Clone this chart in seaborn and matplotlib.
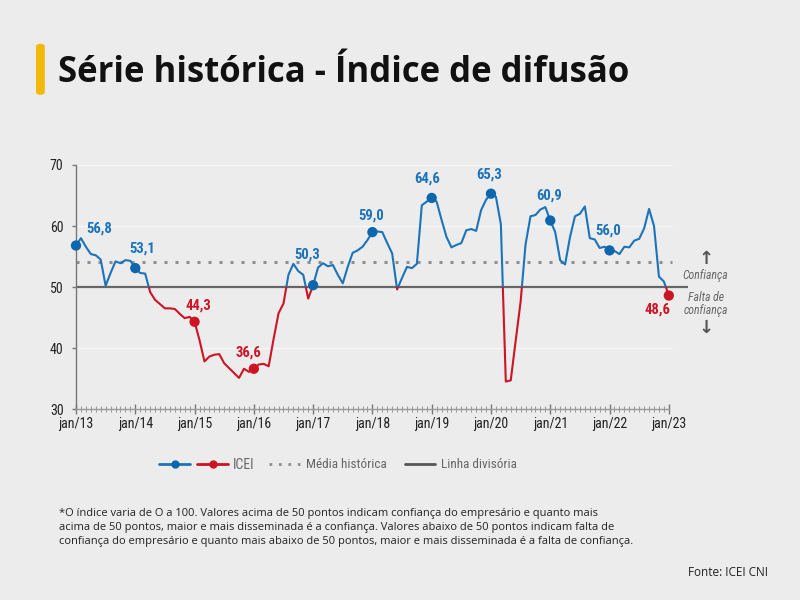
import numpy as np
import pandas as pd
import seaborn as sns
import matplotlib.pyplot as plt
from matplotlib import font_manager
from matplotlib.patches import Rectangle, FancyBboxPatch
from matplotlib.lines import Line2D
from matplotlib.legend_handler import HandlerTuple

# ICEI mensal, jan/13 .. jan/23
icei = [
    56.8, 58.0, 56.6, 55.4, 55.2, 54.5, 50.2, 52.3, 54.2, 53.9, 54.4, 54.3,
    53.1, 52.3, 52.2, 49.2, 47.9, 47.2, 46.5, 46.5, 46.4, 45.6, 44.9, 45.1,
    44.3, 41.3, 37.8, 38.6, 38.9, 39.0, 37.5, 36.7, 35.9, 35.1, 36.6, 36.1,
    36.6, 37.3, 37.4, 37.0, 41.5, 45.7, 47.3, 52.0, 53.8, 52.6, 52.0, 48.1,
    50.3, 53.2, 53.9, 53.4, 53.6, 52.0, 50.6, 53.3, 55.6, 56.0, 56.6, 57.7,
    59.0, 59.1, 59.0, 57.2, 55.5, 49.6, 51.5, 53.3, 53.1, 53.8, 63.4, 64.0,
    64.6, 64.0, 61.0, 58.2, 56.5, 56.9, 57.2, 59.3, 59.5, 59.2, 62.6, 64.3,
    65.3, 64.8, 60.3, 34.5, 34.7, 41.2, 47.6, 57.0, 61.6, 61.8, 62.7, 63.1,
    60.9, 59.0, 54.4, 53.7, 58.2, 61.6, 62.0, 63.2, 58.0, 57.8, 56.4, 56.6,
    56.0, 55.9, 55.4, 56.6, 56.5, 57.6, 57.9, 59.6, 62.8, 60.0, 51.7, 50.9,
    48.6,
]
year_labels = ["jan/13", "jan/14", "jan/15", "jan/16", "jan/17", "jan/18",
               "jan/19", "jan/20", "jan/21", "jan/22", "jan/23"]
media_historica = 54.1
linha_divisoria = 50

df = pd.DataFrame({"mes": np.arange(len(icei)), "icei": icei})
jan = df[df["mes"] % 12 == 0].copy()

BLUE = "#1b73b9"
DOT_BLUE = "#0e66ad"
RED = "#cc1424"
BG = "#ececec"


def pick_font(names, fallback="DejaVu Sans"):
    installed = {f.name for f in font_manager.fontManager.ttflist}
    for n in names:
        if n in installed:
            return n
    return fallback


COND = pick_font(["Liberation Sans Narrow", "Roboto Condensed", "Roboto"])
SANS = pick_font(["Open Sans", "Noto Sans"])

sns.set_theme(style="white")
plt.rcParams["font.family"] = [SANS, "DejaVu Sans"]

fig = plt.figure(figsize=(8, 6), dpi=100, facecolor=BG)
ax = fig.add_axes([0.095, 0.3183, 0.7645, 0.4067], facecolor=BG)

# faint grid
for yv in [40, 60, 70]:
    ax.hlines(yv, 0, 120.7, color="#f7f7f7", lw=1.0, zorder=0)

ax.hlines(media_historica, 0, 120.7, color="#8f8f8f", lw=2.2,
          linestyles=(0, (1, 2.6)), zorder=1)
ax.axhline(linha_divisoria, color="#666666", lw=1.6, zorder=1)

# series, blue above 50 and red below
sns.lineplot(data=df, x="mes", y="icei", color=BLUE, lw=1.5, ax=ax, zorder=3)
ax.lines[-1].set_clip_path(Rectangle((-5, 50), 200, 40, transform=ax.transData))
sns.lineplot(data=df, x="mes", y="icei", color=RED, lw=1.5, ax=ax, zorder=3)
ax.lines[-1].set_clip_path(Rectangle((-5, 10), 200, 40, transform=ax.transData))

dot_colors = [DOT_BLUE if v >= 50 else RED for v in jan["icei"]]
ax.scatter(jan["mes"], jan["icei"], s=55, c=dot_colors, zorder=5,
           clip_on=False, linewidths=0)

offsets = [(17, 12), (5, 14), (3, 12), (-4, 12), (-4, 22), (-1, 12),
           (-3, 14), (-1, 14), (-1, 18), (-1, 14), (-8, -10)]
for (m, v), off, c in zip(jan[["mes", "icei"]].values, offsets, dot_colors):
    ax.annotate(f"{v:.1f}".replace(".", ","), (m, v), xytext=off,
                textcoords="offset points", ha="center", va="center",
                fontsize=10.5, fontweight="bold", color=c if c == RED else BLUE,
                family=COND, zorder=6)

ax.set_xlim(0, 123.8)
ax.set_ylim(30, 70)
ax.set_xticks(jan["mes"], year_labels)
ax.set_xticks(df["mes"], minor=True)
ax.set_yticks([30, 40, 50, 60, 70])
ax.tick_params(axis="x", which="major", direction="inout", length=7, width=1,
               color="#777777", labelsize=10, pad=2, labelcolor="#222222",
               bottom=True)
ax.tick_params(axis="x", which="minor", direction="inout", length=4, width=0.7,
               color="#999999", bottom=True)
ax.tick_params(axis="y", direction="out", length=3, width=1, color="#777777",
               labelsize=10, pad=6, labelcolor="#222222", left=True)
for lab in ax.get_xticklabels() + ax.get_yticklabels():
    lab.set_family(COND)

for s in ["top", "right"]:
    ax.spines[s].set_visible(False)
ax.spines["left"].set_color("#777777")
ax.spines["bottom"].set_color("#999999")
ax.spines["left"].set_linewidth(1)
ax.spines["bottom"].set_linewidth(1)
ax.spines["bottom"].set_bounds(0, 120)
ax.set_xlabel("")
ax.set_ylabel("")

# right side notes
fig.text(0.882, 0.569, "↑", ha="center", va="center", fontsize=13,
         fontweight="bold", color="#555555", family="DejaVu Sans")
fig.text(0.882, 0.541, "Confiança", ha="center", va="center", fontsize=8.5,
         style="italic", color="#666666", family=COND)
fig.text(0.882, 0.494, "Falta de\nconfiança", ha="center", va="center",
         fontsize=8.5, style="italic", color="#666666", family=COND,
         linespacing=1.0)
fig.text(0.882, 0.453, "↓", ha="center", va="center", fontsize=13,
         fontweight="bold", color="#555555", family="DejaVu Sans")

# legend
h_blue = Line2D([], [], color=BLUE, lw=2, marker="o", ms=5, mfc=DOT_BLUE, mec=DOT_BLUE)
h_red = Line2D([], [], color=RED, lw=2, marker="o", ms=5, mfc=RED, mec=RED)
fig.legend([(h_blue, h_red)], ["ICEI"], loc="center left",
           bbox_to_anchor=(0.183, 0.225), frameon=False, handlelength=5.0,
           handletextpad=0.35, handler_map={tuple: HandlerTuple(ndivide=None, pad=0.5)},
           prop={"family": COND, "size": 10}, labelcolor="#666666")
h_media = Line2D([], [], color="#8f8f8f", lw=2, linestyle=(0, (1, 2.4)))
h_div = Line2D([], [], color="#555555", lw=2)
fig.legend([h_media, h_div], ["Média histórica", "Linha divisória"],
           loc="center left", bbox_to_anchor=(0.322, 0.225), frameon=False,
           ncol=2, handlelength=2.3, handletextpad=0.45, columnspacing=1.4,
           prop={"family": COND, "size": 9.5}, labelcolor="#666666")

# title with yellow bar
fig.patches.append(FancyBboxPatch((0.045, 0.842), 0.011, 0.085,
                                  boxstyle="round,pad=0,rounding_size=0.005",
                                  transform=fig.transFigure, fc="#f3b80c", ec="none"))
fig.text(0.073, 0.878, "Série histórica - Índice de difusão", ha="left",
         va="center", fontsize=25, fontweight="bold", color="#111111")

nota = ("*O índice varia de O a 100. Valores acima de 50 pontos indicam confiança do empresário e quanto mais\n"
        "acima de 50 pontos, maior e mais disseminada é a confiança. Valores abaixo de 50 pontos indicam falta de\n"
        "confiança do empresário e quanto mais abaixo de 50 pontos, maior e mais disseminada é a falta de confiança.")
fig.text(0.074, 0.121, nota, ha="left", va="center", fontsize=8, color="#222222",
         linespacing=1.4)
fig.text(0.96, 0.045, "Fonte: ICEI CNI", ha="right", va="center", fontsize=8.5,
         color="#222222")

fig.savefig("out.png", dpi=100, facecolor=BG)
